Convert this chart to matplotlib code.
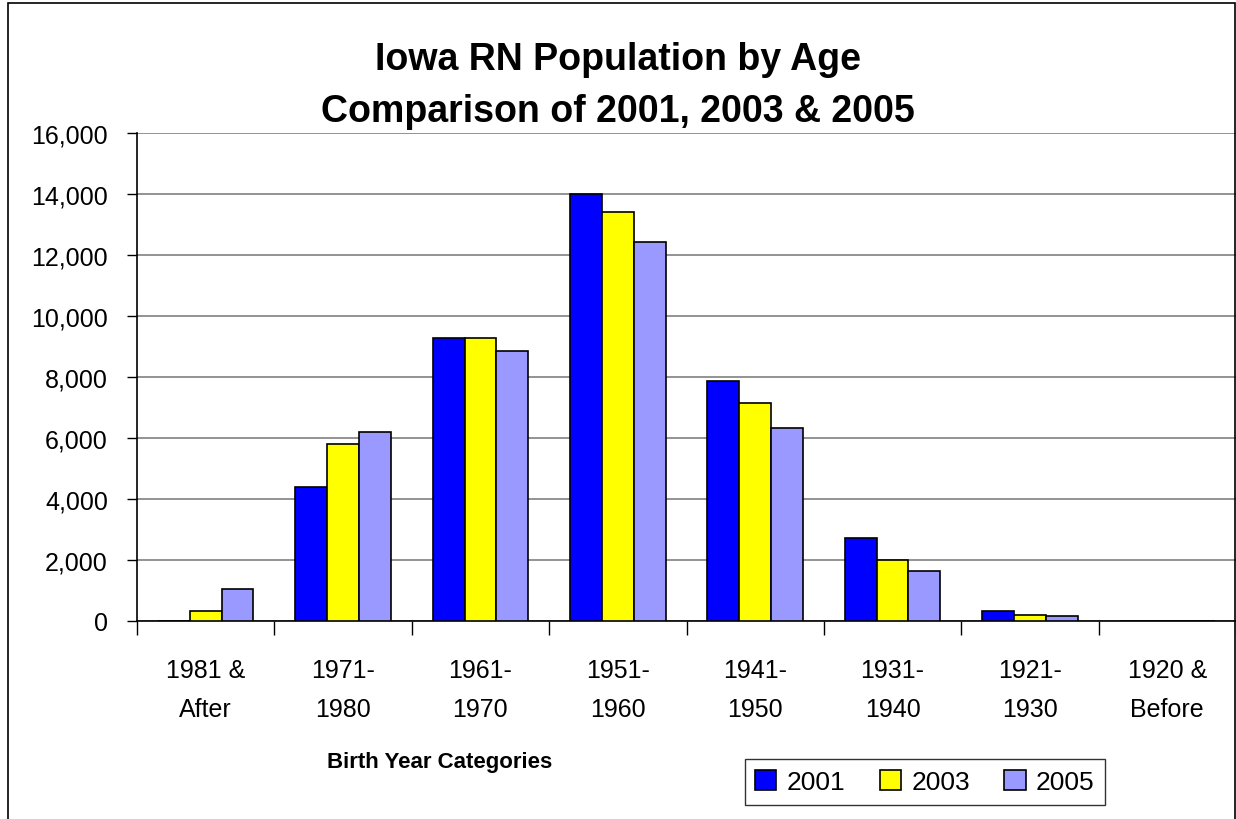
import matplotlib.pyplot as plt
from matplotlib.patches import Rectangle
import numpy as np

plt.rcParams['font.family'] = ['Liberation Sans', 'DejaVu Sans']

categories = ["1981 &\nAfter", "1971-\n1980", "1961-\n1970", "1951-\n1960",
              "1941-\n1950", "1931-\n1940", "1921-\n1930", "1920 &\nBefore"]
years = ["2001", "2003", "2005"]
rn_2001 = [0, 4390, 9280, 14000, 7870, 2720, 330, 0]
rn_2003 = [330, 5800, 9280, 13410, 7150, 2010, 200, 0]
rn_2005 = [1050, 6200, 8850, 12430, 6330, 1630, 150, 0]
colors = ["#0000FF", "#FFFF00", "#9999FF"]

fig = plt.figure(figsize=(12.36, 8.2), dpi=100)
ax = fig.add_axes([137 / 1236, 1 - 622 / 820, 1 - 137 / 1236, (622 - 134) / 820])

x = np.arange(len(categories))
w = 0.232
for i, (vals, c, lab) in enumerate(zip([rn_2001, rn_2003, rn_2005], colors, years)):
    ax.bar(x + (i - 1) * w, vals, w, color=c, edgecolor="black", linewidth=1.2,
           label=lab, zorder=3)

ax.set_xlim(-0.5, len(categories) - 0.5)
ax.set_ylim(0, 16000)
ax.set_yticks(np.arange(0, 16001, 2000))
ax.set_yticklabels([f"{v:,}" for v in range(0, 16001, 2000)], fontsize=18)
ax.yaxis.grid(True, color="#808080", linewidth=1.2, zorder=0)

ax.set_xticks(np.arange(-0.5, len(categories) - 0.4, 1))
ax.set_xticklabels([])
ax.set_xticks(x, minor=True)
ax.set_xticklabels(categories, minor=True, fontsize=18, linespacing=1.75)
ax.tick_params(axis="x", which="minor", length=0, pad=27)
ax.tick_params(axis="x", which="major", length=10, width=1, direction="out")
ax.tick_params(axis="y", length=7, width=1, direction="out", pad=14)

for s in ["top", "right"]:
    ax.spines[s].set_visible(False)
ax.spines["left"].set_linewidth(1.2)
ax.spines["bottom"].set_linewidth(1.2)

fig.text(0.5, 1 - 60 / 820, "Iowa RN Population by Age", ha="center", va="center",
         fontsize=27, fontweight="bold")
fig.text(0.5, 1 - 112 / 820, "Comparison of 2001, 2003 & 2005", ha="center", va="center",
         fontsize=27, fontweight="bold")
fig.text(440 / 1236, 1 - 763 / 820, "Birth Year Categories", ha="center", va="center",
         fontsize=16, fontweight="bold")

leg = fig.legend(loc="center", bbox_to_anchor=(925 / 1236, 1 - 783 / 820), ncol=3,
                 fontsize=19, frameon=True, fancybox=False, edgecolor="black",
                 handlelength=0.8, handleheight=0.8, handletextpad=0.4, columnspacing=1.3,
                 borderpad=0.4)
leg.get_frame().set_linewidth(1.0)

fig.patches.append(Rectangle((8 / 1236, -0.01), 1 - 9 / 1236, 1 - 4 / 820 + 0.01,
                             transform=fig.transFigure, fill=False,
                             edgecolor="black", linewidth=1.2))

fig.savefig("out.png", dpi=100)
